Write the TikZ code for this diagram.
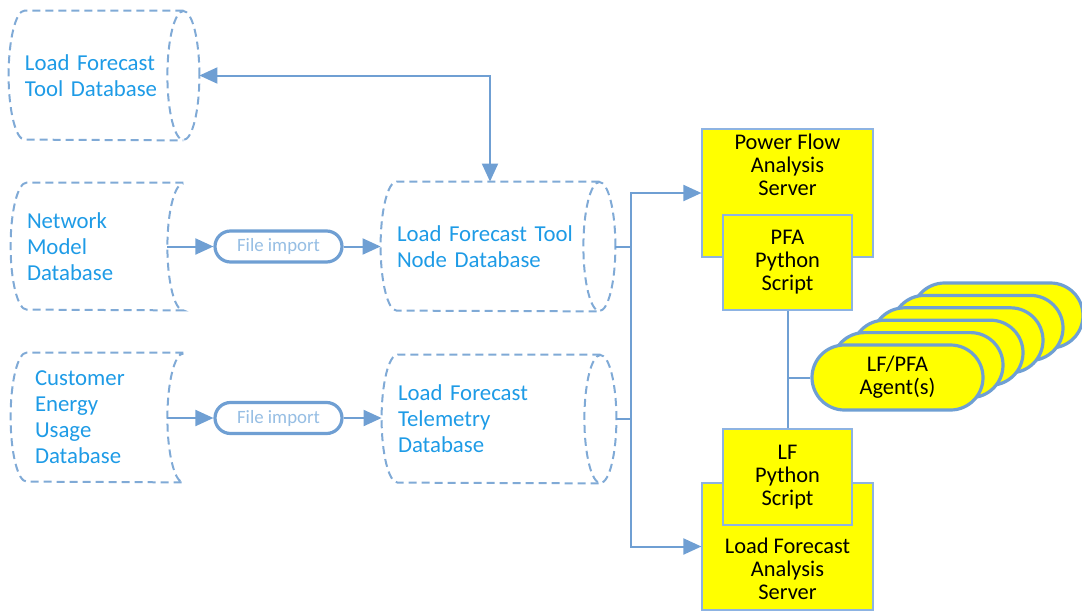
\documentclass[tikz,border=0pt]{standalone}
\usepackage{fontspec}
\setmainfont{Carlito}
\usetikzlibrary{arrows.meta, calc, shapes.misc}
\definecolor{dbblue}{RGB}{128, 170, 214}
\definecolor{dbtext}{RGB}{30, 155, 230}
\definecolor{linkblue}{RGB}{111, 159, 211}
\definecolor{pilltext}{RGB}{150, 190, 228}
\definecolor{boxedge}{RGB}{141, 179, 226}
\definecolor{srvyellow}{RGB}{255, 255, 0}

\tikzset{
  dbnode/.style={rectangle, inner sep=0pt, align=left, text=dbtext,
                 font=\fontsize{11.4}{13}\selectfont},
  dbline/.style={color=dbblue, line width=1pt, dash pattern=on 4pt off 2.5pt},
  link/.style={color=linkblue, line width=1pt},
  pill/.style={rounded rectangle, draw=linkblue, line width=1.6pt, fill=white,
               text=pilltext, font=\fontsize{9.4}{11}\selectfont,
               minimum width=63.5pt, minimum height=15.5pt, inner sep=0pt},
  server/.style={rectangle, draw=boxedge, line width=0.6pt, fill=srvyellow, inner sep=0pt},
  servertext/.style={align=center, inner sep=0pt, font=\fontsize{11.2}{11.5}\selectfont},
  agent/.style={rounded rectangle, draw=linkblue, line width=1.6pt, fill=srvyellow,
                minimum width=85.5pt, minimum height=32.5pt, inner sep=0pt}
}

\begin{document}
\begin{tikzpicture}[x=0.5pt, y=0.5pt, >={Triangle[length=9pt, width=8pt]}]
  \useasboundingbox (0, 0) rectangle (1082, -611);

  % databases
  \node[dbnode, text width=79pt, minimum height=64.5pt] (tooldb) at (104, -75.5)
    {Load Forecast\\Tool Database};
  \node[dbnode, text width=78pt, minimum height=63.5pt] (netdb) at (105, -246.5)
    {Network\\Model\\Database};
  \node[dbnode, text width=70pt, inner xsep=4pt, minimum height=64.5pt] (custdb) at (105, -417.5)
    {Customer\\Energy\\Usage\\Database};
  \node[dbnode, text width=101pt, minimum height=64.5pt] (nodedb) at (498, -246.5)
    {Load Forecast Tool\\Node Database};
  \node[dbnode, text width=101pt, minimum height=64pt] (teldb) at (499, -419)
    {Load Forecast\\Telemetry\\Database};

  \foreach \db/\ry in {tooldb/64.5, nodedb/64.5, teldb/64} {
    \draw[dbline] (\db.north east) -- (\db.north west)
      arc[start angle=90, end angle=270, x radius=16, y radius=\ry] -- (\db.south east);
    \draw[dbline] (\db.east) ellipse[x radius=16, y radius=\ry];
  }
  \foreach \db/\ry in {netdb/63.5, custdb/64.5} {
    \draw[dbline] (\db.north east) -- (\db.north west)
      arc[start angle=90, end angle=270, x radius=16, y radius=\ry] -- (\db.south east)
      arc[start angle=270, end angle=90, x radius=16, y radius=\ry];
  }

  \coordinate (tooldb-e) at ($(tooldb.east)+(16,0)$);
  \coordinate (netdb-e) at ($(netdb.east)+(-16,0)$);
  \coordinate (custdb-e) at ($(custdb.east)+(-16,0)$);
  \coordinate (nodedb-w) at ($(nodedb.west)+(-16,0)$);
  \coordinate (nodedb-e) at ($(nodedb.east)+(16,0)$);
  \coordinate (nodedb-n) at ($(nodedb.north)+(-8,0)$);
  \coordinate (teldb-w) at ($(teldb.west)+(-16,0)$);
  \coordinate (teldb-e) at ($(teldb.east)+(16,0)$);

  % imports
  \node[pill] (import1) at (278.5, -246.5) {File import};
  \node[pill] (import2) at (278.5, -418) {File import};

  \draw[link, ->] (netdb-e) -- (import1.west);
  \draw[link, ->] (import1.east) -- (nodedb-w);
  \draw[link, ->] (custdb-e |- import2) -- (import2.west);
  \draw[link, ->] (import2.east) -- (teldb-w |- import2);
  \draw[link, <->] (tooldb-e) -| (nodedb-n);

  % servers
  \node[server, minimum width=85.5pt, minimum height=64pt] (pfaserver) at (787.5, -193) {};
  \node[servertext, anchor=north] (pfalabel) at ($(pfaserver.north)+(0,-5)$)
    {Power Flow\\Analysis\\Server};
  \node[server, servertext, minimum width=64.5pt, minimum height=47.5pt] (pfascript)
    at (787.5, -262.5) {PFA\\Python\\Script};

  \node[server, minimum width=85.5pt, minimum height=63.5pt] (lfserver) at (787.5, -546.5) {};
  \node[servertext, anchor=north] (lflabel) at ($(lfserver.north)+(0,-55)$)
    {Load Forecast\\Analysis\\Server};
  \node[server, servertext, minimum width=64.5pt, minimum height=48pt] (lfscript)
    at (787.5, -477) {LF\\Python\\Script};

  \coordinate (bus) at (631, 0);
  \draw[link] (nodedb-e) -- (nodedb-e -| bus);
  \draw[link] (teldb-e) -- (teldb-e -| bus);
  \draw[link, <->] (pfaserver.west) -- (pfaserver.west -| bus)
    -- (lfserver.west -| bus) -- (lfserver.west);

  % agents
  \foreach \k in {5, 4, ..., 1}
    \node[agent] (agent\k) at (897.5 + 20*\k, -377.5 + 12.4*\k) {};
  \node[agent, servertext] (agents) at (897.5, -377.5) {LF/PFA\\Agent(s)};

  \draw[link] (pfascript) -- (lfscript);
  \draw[link] (agents.west) -- (agents.west -| pfascript.south);
\end{tikzpicture}
\end{document}
